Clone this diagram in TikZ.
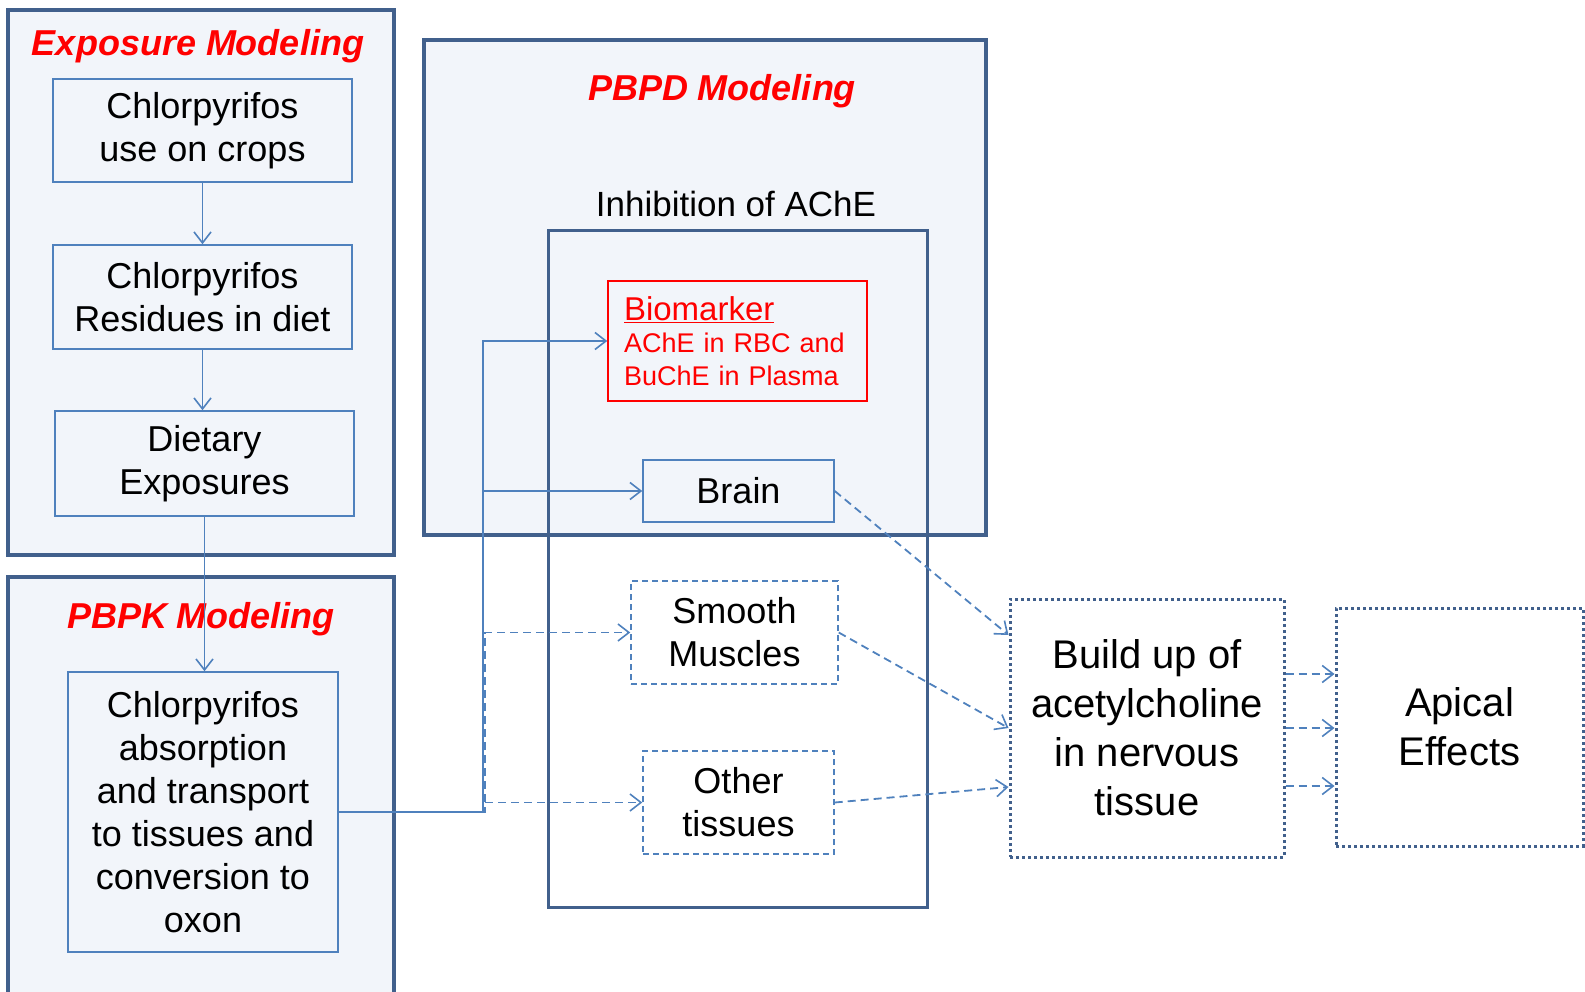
\documentclass[tikz,border=0pt]{standalone}
\usepackage{fontspec}
\setmainfont{Liberation Sans}
\usetikzlibrary{arrows.meta,calc}
\definecolor{frame}{RGB}{65,96,140}
\definecolor{lblue}{RGB}{79,129,189}
\definecolor{panel}{RGB}{242,245,250}
\definecolor{tred}{RGB}{255,0,0}
\begin{document}
\begin{tikzpicture}[x=1pt,y=-1pt,
  panelbox/.style={draw=frame,line width=4pt,fill=panel,inner sep=0pt},
  thinbox/.style={draw=lblue,line width=1.5pt,inner sep=0pt,align=center,font=\fontsize{36}{43}\selectfont},
  dashbox/.style={thinbox,dash pattern=on 6pt off 4pt},
  dotbox/.style={draw=frame,line width=3pt,dash pattern=on 3pt off 3pt,inner sep=0pt,align=center,font=\fontsize{40}{49}\selectfont},
  paneltitle/.style={text=tred,font=\fontsize{36}{43}\selectfont\bfseries\itshape},
  conn/.style={draw=lblue,line width=1.6pt,-{Straight Barb[length=11pt,width=17pt,line width=1.6pt]}},
  dconn/.style={conn,line width=1.8pt,dash pattern=on 8pt off 5pt},
]
\useasboundingbox (0,0) rectangle (1585,992);
\clip (0,0) rectangle (1585,992);

% panels
\node[panelbox,minimum width=386pt,minimum height=545pt] (expo) at (201,282.5) {};
\node[panelbox,minimum width=386pt,minimum height=433pt] (pbpk) at (201,793.5) {};
\node[panelbox,minimum width=562pt,minimum height=495pt] (pbpd) at (705,287.5) {};
\node[draw=frame,line width=3pt,minimum width=379pt,minimum height=676pt,inner sep=0pt] (inner) at (737.5,569) {};

% titles
\node[paneltitle] (t1) at (198,46.5) {Exposure Modeling};
\node[paneltitle] (t2) at (201,619) {PBPK Modeling};
\node[paneltitle] (t3) at (722,91) {PBPD Modeling};
\node[font=\fontsize{35}{42}\selectfont] (inh) at (736,204) {Inhibition of AChE};

% exposure boxes
\node[thinbox,fill=panel,minimum width=299pt,minimum height=103pt] (box1) at (202.5,130.5) {Chlorpyrifos\\use on crops};
\node[thinbox,fill=panel,minimum width=299pt,minimum height=104pt] (box2) at (202.5,297) {Chlorpyrifos\\Residues in diet};
\node[thinbox,fill=panel,minimum width=299pt,minimum height=105pt] (box3) at (204.5,463.5) {Dietary\\Exposures};
\node[thinbox,fill=panel,minimum width=270pt,minimum height=280pt] (absorb) at (203,812) {Chlorpyrifos\\absorption\\and transport\\to tissues and\\conversion to\\oxon};

% PBPD boxes
\node[draw=tred,line width=1.5pt,fill=panel,minimum width=259pt,minimum height=120pt,text width=227pt,align=left,inner xsep=16pt,inner ysep=0pt,text=tred,font=\fontsize{27}{32.5}\selectfont] (bio) at (737.5,341)
  {{\fontsize{33}{35}\selectfont\underline{Biomarker}}\\AChE in RBC and\\BuChE in Plasma};
\node[thinbox,fill=panel,minimum width=191pt,minimum height=62pt] (brain) at (738.5,491) {Brain};
\node[dashbox,minimum width=207pt,minimum height=103pt] (smooth) at (734.5,632.5) {Smooth\\Muscles};
\node[dashbox,minimum width=191pt,minimum height=103pt] (other) at (738.5,802.5) {Other\\tissues};

% effects
\node[dotbox,minimum width=274pt,minimum height=258pt] (build) at (1147,728) {Build up of\\acetylcholine\\in nervous\\tissue};
\node[dotbox,minimum width=247pt,minimum height=238pt] (apical) at (1459.5,727) {Apical\\Effects};

% connectors
\draw[conn] (box1.south) -- (box2.north);
\draw[conn] (box2.south) -- (box2.south |- box3.north);
\draw[conn] (box3.south) -- (box3.south |- absorb.north);

\coordinate (j) at (483,812);
\coordinate (jd) at (485,812);
\draw[dconn] (absorb.east) -- (jd) |- (smooth.west);
\draw[dconn] (absorb.east) -- (jd) |- (other.west);
\draw[conn] (absorb.east) -- (j) |- (bio.west);
\draw[conn] (j |- brain.west) -- (brain.west);

\coordinate (e1) at ($(build.west)+(0,-93)$);
\coordinate (e3) at ($(build.west)+(0,59)$);
\draw[dconn] (brain.east) -- (e1);
\draw[dconn] (smooth.east) -- (build.west);
\draw[dconn] (other.east) -- (e3);

\coordinate (a1) at ($(build.east)+(0,-54)$);
\coordinate (a2) at ($(build.east)+(0,0)$);
\coordinate (a3) at ($(build.east)+(0,58)$);
\draw[dconn] (a1) -- (a1 -| apical.west);
\draw[dconn] (a2) -- (a2 -| apical.west);
\draw[dconn] (a3) -- (a3 -| apical.west);
\end{tikzpicture}
\end{document}
